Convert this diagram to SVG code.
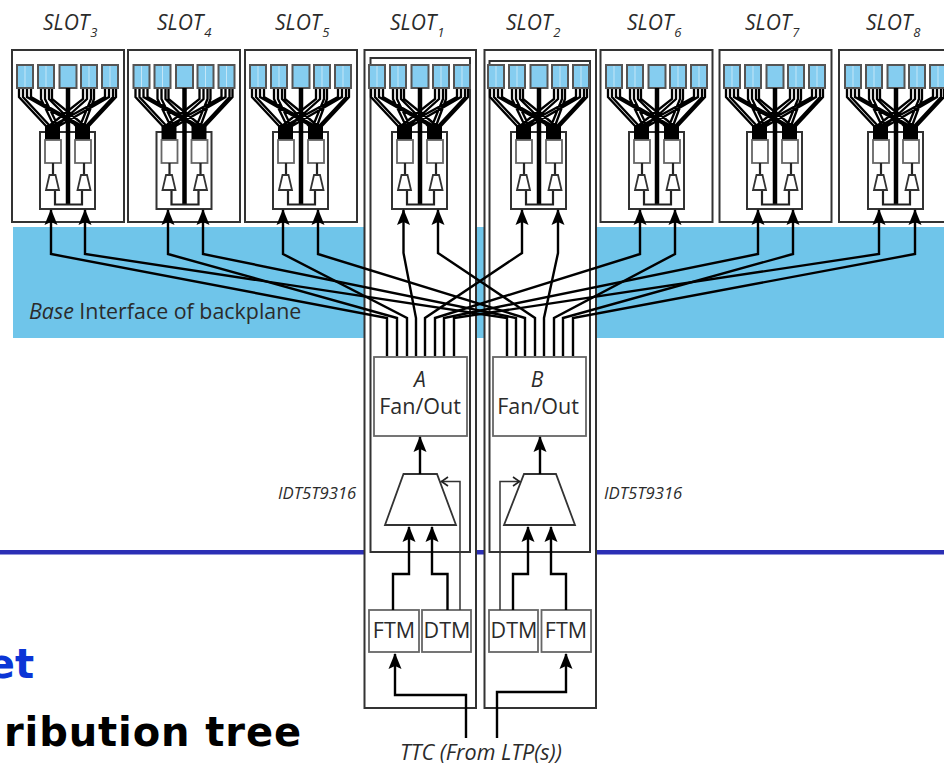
<svg xmlns="http://www.w3.org/2000/svg" xmlns:xlink="http://www.w3.org/1999/xlink" width="944" height="766" viewBox="0 0 944 766">
<style>
.t{font-family:"Open Sans","Liberation Sans",sans-serif;fill:#2b2b2b}
.i{font-style:italic}
.box{fill:#fff;stroke:#333;stroke-width:2}
.gbox{fill:#fff;stroke:#666;stroke-width:1.8}
.w{fill:none;stroke:#000;stroke-width:2.3}
.thin{fill:none;stroke:#333;stroke-width:1.5}
.u{fill:none;stroke:#222;stroke-width:2.2}
.c{fill:none;stroke:#000;stroke-width:2.4;stroke-linejoin:miter}
.card{fill:#85cdf0;stroke:#555;stroke-width:2}
.stripe{stroke:#c4e6f7;stroke-width:1}
.trap{fill:#fff;stroke:#333;stroke-width:1.8}
.lab{font-size:21px}
.comic{font-family:"DejaVu Sans",sans-serif;font-weight:bold}
</style>
<defs>
<marker id="ah" markerUnits="userSpaceOnUse" markerWidth="16" markerHeight="14" viewBox="0 0 16 14" refX="15" refY="7" orient="auto"><path d="M16 7L0 .5L3 7L0 13.5Z" fill="#000"/></marker>
<marker id="ao" markerUnits="userSpaceOnUse" markerWidth="9" markerHeight="11" viewBox="0 0 9 11" refX="8" refY="5.5" orient="auto"><path d="M1 1L7.500 5.500L1 10" fill="none" stroke="#222" stroke-width="1.6"/></marker>
<g id="fan">
<path class="w" d="M19 88V97L46 126M23 88V97L50 126M27 88V97L78 126M31 88V97L82 126M41 88V99L54 126M45 88V99L58 126M49 88V99L76 126M52 88V99L85 126M83 88V99L49 126M87 88V99L57 126M91 88V99L80 126M94 88V99L84 126M105 88V97L52 126M109 88V97L59 126M113 88V97L86 126M116 88V97L89 126"/>
<rect class="card" x="17" y="65" width="16" height="23"/>
<rect class="card" x="38" y="65" width="16" height="23"/>
<rect class="card" x="59.500" y="65" width="17" height="23"/>
<rect class="card" x="81" y="65" width="16" height="23"/>
<rect class="card" x="102" y="65" width="16" height="23"/>
<path class="stripe" d="M25 66V87M46 66V87M89 66V87M110 66V87"/>
<rect x="40" y="132" width="55" height="77" fill="none" stroke="#333" stroke-width="2"/>
<rect x="45" y="125" width="15" height="15" fill="#000"/>
<rect x="75" y="125" width="15" height="15" fill="#000"/>
<path d="M68 88V204" fill="none" stroke="#000" stroke-width="4.500"/>
<rect class="gbox" x="45" y="140" width="16" height="23"/>
<rect class="gbox" x="75" y="140" width="16" height="23"/>
<path class="u" d="M53 163V175M84 163V175"/>
<path class="u" d="M55 190V204.500H82V190"/>
<path class="trap" d="M49.500 175H55.500L59 190H46ZM81 175H87L90.500 190H77.500Z"/>
</g>
</defs>

<rect x="13" y="227" width="931" height="111" fill="#6fc5ea"/>
<rect x="0" y="550" width="944" height="4.500" fill="#2b2fb5"/>
<text class="t" x="29" y="319" font-size="21.400"><tspan class="i">Base</tspan> Interface of backplane</text>

<g id="slot3"><rect class="box" x="12" y="50" width="112" height="172"/><use xlink:href="#fan" href="#fan"/><text class="t i lab" x="43" y="30">SLOT<tspan font-size="13" dx="1" dy="7">3</tspan></text></g>
<g id="slot4"><rect class="box" x="128" y="50" width="112" height="172"/><use xlink:href="#fan" href="#fan" x="116.500"/><text class="t i lab" x="157" y="30">SLOT<tspan font-size="13" dx="1" dy="7">4</tspan></text></g>
<g id="slot5"><rect class="box" x="245" y="50" width="112" height="172"/><use xlink:href="#fan" href="#fan" x="233"/><text class="t i lab" x="275" y="30">SLOT<tspan font-size="13" dx="1" dy="7">5</tspan></text></g>
<g id="slot1"><rect class="box" x="364.500" y="50" width="111.500" height="658"/><rect class="box" x="370.500" y="58" width="99.500" height="494"/><use xlink:href="#fan" href="#fan" x="352"/><text class="t i lab" x="390" y="30">SLOT<tspan font-size="13" dx="1" dy="7">1</tspan></text></g>
<g id="slot2"><rect class="box" x="484.500" y="50" width="111.500" height="658"/><rect class="box" x="489.500" y="61" width="100.500" height="491"/><use xlink:href="#fan" href="#fan" x="471"/><text class="t i lab" x="506" y="30">SLOT<tspan font-size="13" dx="1" dy="7">2</tspan></text></g>
<g id="slot6"><rect class="box" x="600.500" y="50" width="112" height="172"/><use xlink:href="#fan" href="#fan" x="589"/><text class="t i lab" x="627" y="30">SLOT<tspan font-size="13" dx="1" dy="7">6</tspan></text></g>
<g id="slot7"><rect class="box" x="719.500" y="50" width="112" height="172"/><use xlink:href="#fan" href="#fan" x="707"/><text class="t i lab" x="745" y="30">SLOT<tspan font-size="13" dx="1" dy="7">7</tspan></text></g>
<g id="slot8"><rect class="box" x="839" y="50" width="112" height="172"/><use xlink:href="#fan" href="#fan" x="828"/><text class="t i lab" x="866" y="30">SLOT<tspan font-size="13" dx="1" dy="7">8</tspan></text></g>

<g id="fanoutA"><rect class="gbox" x="374" y="357" width="93" height="79"/><text class="t i" x="420" y="387" font-size="21" text-anchor="middle">A</text><text class="t" x="420" y="414" font-size="21.500" text-anchor="middle">Fan/Out</text></g>
<g id="fanoutB"><rect class="gbox" x="493" y="357" width="93" height="79"/><text class="t i" x="537" y="387" font-size="21" text-anchor="middle">B</text><text class="t" x="538" y="414" font-size="21.500" text-anchor="middle">Fan/Out</text></g>
<g id="muxA"><path class="trap" d="M403.500 474H437L456 525H385Z"/></g>
<g id="muxB"><path class="trap" d="M524 474H556L575 525H504Z"/></g>
<g id="ftmA"><rect class="gbox" x="369" y="610" width="50" height="42"/><text class="t" x="394" y="638" font-size="21.500" text-anchor="middle">FTM</text></g>
<g id="dtmA"><rect class="gbox" x="422" y="610" width="49" height="42"/><text class="t" x="447" y="638" font-size="21.500" text-anchor="middle">DTM</text></g>
<g id="dtmB"><rect class="gbox" x="489" y="610" width="49" height="42"/><text class="t" x="514" y="638" font-size="21.500" text-anchor="middle">DTM</text></g>
<g id="ftmB"><rect class="gbox" x="541.500" y="610" width="49.500" height="42"/><text class="t" x="566" y="638" font-size="21.500" text-anchor="middle">FTM</text></g>

<g id="connectors">
<path class="c" marker-end="url(#ah)" d="M387 356V318L51 254V210"/>
<path class="c" marker-end="url(#ah)" d="M397 356V318L168 254V210"/>
<path class="c" marker-end="url(#ah)" d="M407 356V318L283 254V210"/>
<path class="c" marker-end="url(#ah)" d="M416 356V318L403.500 253V210"/>
<path class="c" marker-end="url(#ah)" d="M425 356V318L522 253V210"/>
<path class="c" marker-end="url(#ah)" d="M435 356V318L640 254V210"/>
<path class="c" marker-end="url(#ah)" d="M444 356V318L758 254V210"/>
<path class="c" marker-end="url(#ah)" d="M454 356V318L879 254V210"/>
<path class="c" marker-end="url(#ah)" d="M507 356V318L85 254V210"/>
<path class="c" marker-end="url(#ah)" d="M516 356V318L203 254V210"/>
<path class="c" marker-end="url(#ah)" d="M525 356V318L318 254V210"/>
<path class="c" marker-end="url(#ah)" d="M535 356V318L438 253V210"/>
<path class="c" marker-end="url(#ah)" d="M544 356V318L558 253V210"/>
<path class="c" marker-end="url(#ah)" d="M554 356V318L675 254V210"/>
<path class="c" marker-end="url(#ah)" d="M563 356V318L793 254V210"/>
<path class="c" marker-end="url(#ah)" d="M573 356V318L915 254V210"/>
<path class="c" marker-end="url(#ah)" d="M420 474V437"/>
<path class="c" marker-end="url(#ah)" d="M540 474V437"/>
<path class="c" marker-end="url(#ah)" d="M393 610V574H409V527"/>
<path class="c" marker-end="url(#ah)" d="M447.500 610V574H432V527"/>
<path class="c" marker-end="url(#ah)" d="M513 610V574H528V527"/>
<path class="c" marker-end="url(#ah)" d="M566 610V574H551V527"/>
<path class="thin" marker-end="url(#ao)" d="M460 610V481.500H441"/>
<path class="thin" marker-end="url(#ao)" d="M500 610V481.500H520"/>
<path class="c" marker-end="url(#ah)" d="M466 738V695H395V654"/>
<path class="c" marker-end="url(#ah)" d="M497 738V692H566V654"/>
</g>

<text class="t i" x="278" y="499" font-size="16.700">IDT5T9316</text>
<text class="t i" x="604" y="499" font-size="16.700">IDT5T9316</text>
<text class="t i" x="400" y="759.500" font-size="21.500">TTC (From LTP(s))</text>
<text class="comic" x="34" y="678" font-size="40" fill="#0b35d6" text-anchor="end">et</text>
<text class="comic" x="302" y="746" font-size="40" fill="#000" text-anchor="end" letter-spacing="0.900">ribution tree</text>
</svg>
